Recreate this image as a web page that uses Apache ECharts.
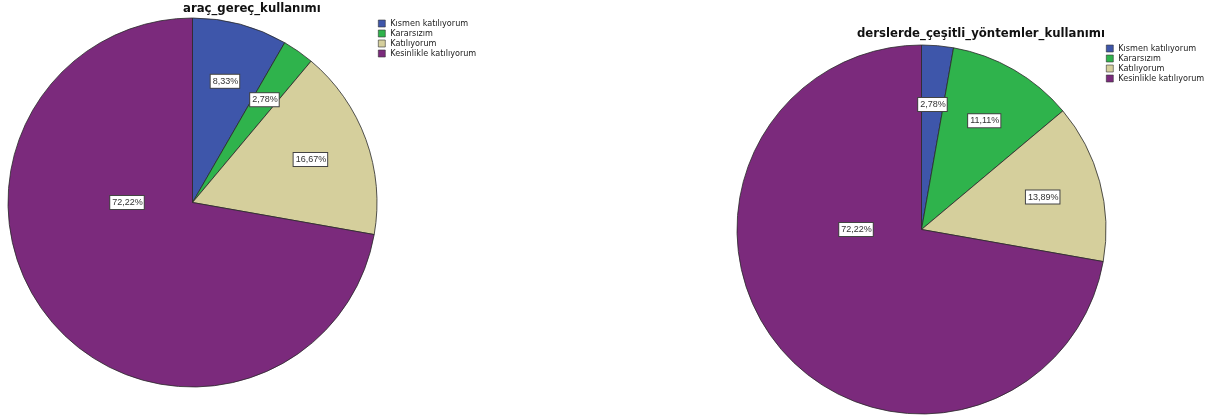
<!DOCTYPE html>
<html>
<head>
<meta charset="utf-8">
<script src="https://cdn.jsdelivr.net/npm/echarts@6/dist/echarts.min.js"></script>
<style>html,body{margin:0;padding:0;background:#fff}#c{width:1220px;height:419px}</style>
</head>
<body>
<div id="c"></div>
<script>
const categories = ['Kısmen katılıyorum', 'Kararsızım', 'Katılıyorum', 'Kesinlikle katılıyorum'];
const titles = ['araç_gereç_kullanımı', 'derslerde_çeşitli_yöntemler_kullanımı'];
const valuesArac = [8.33, 2.78, 16.67, 72.22];
const valuesDersler = [2.78, 11.11, 13.89, 72.22];

const colors = ['#3e56aa', '#2fb34c', '#d5cf9c', '#7b2a7c'];
const pies = [
  { values: valuesArac, center: [192.5, 202.5], r: 184.5 },
  { values: valuesDersler, center: [921.5, 229.5], r: 184.5 }
];
const FONT = 'DejaVu Sans Condensed';

function fmt(v) { return v.toFixed(2).replace('.', ',') + '%'; }

function labelPos(pie, idx) {
  const vals = pie.values;
  const total = vals.reduce((a, b) => a + b, 0);
  let cum = 0;
  for (let i = 0; i < idx; i++) cum += vals[i];
  let theta = (cum + vals[idx] / 2) / total * 2 * Math.PI;
  let d = 0.68 * pie.r;
  if (vals[idx] / total > 0.5) { theta = 1.5 * Math.PI; d = 0.355 * pie.r; }
  return [pie.center[0] + d * Math.sin(theta), pie.center[1] - d * Math.cos(theta)];
}

const series = pies.map((pie, si) => ({
  type: 'pie',
  center: pie.center,
  radius: pie.r,
  startAngle: 90,
  clockwise: true,
  animation: false,
  silent: true,
  itemStyle: { borderColor: '#2a2a2a', borderWidth: 0.8 },
  label: {
    show: true,
    position: 'inside',
    formatter: p => fmt(p.value),
    fontFamily: 'Liberation Sans',
    fontSize: 9,
    color: '#333',
    backgroundColor: '#fff',
    borderColor: '#444',
    borderWidth: 1,
    padding: [2, 1, 2, 2]
  },
  labelLine: { show: false },
  labelLayout: params => {
    const p = labelPos(pie, params.dataIndex);
    return { x: p[0], y: p[1], align: 'center', verticalAlign: 'middle' };
  },
  data: categories.map((c, i) => ({ name: c, value: pie.values[i], itemStyle: { color: colors[i] } }))
}));

const legendBase = {
  orient: 'vertical',
  padding: 0,
  itemWidth: 7,
  itemHeight: 7,
  itemGap: 1,
  icon: 'rect',
  selectedMode: false,
  itemStyle: { borderColor: '#333', borderWidth: 0.6 },
  textStyle: { fontFamily: FONT, fontSize: 9, color: '#222', lineHeight: 8, padding: [0, 0, 0, 0] },
  data: categories
};

const titleStyle = { fontFamily: 'DejaVu Sans Condensed', fontWeight: 'bold', fontSize: 13, color: '#111' };

const chart = echarts.init(document.getElementById('c'), null, { renderer: 'canvas' });
chart.setOption({
  backgroundColor: '#fff',
  animation: false,
  color: colors,
  title: [
    { text: titles[0], left: 183, top: 2, padding: 0, textStyle: titleStyle },
    { text: titles[1], left: 857, top: 27, padding: 0, textStyle: titleStyle }
  ],
  legend: [
    Object.assign({}, legendBase, { left: 378, top: 19 }),
    Object.assign({}, legendBase, { left: 1106, top: 44 })
  ],
  series: series
});
</script>
</body>
</html>
